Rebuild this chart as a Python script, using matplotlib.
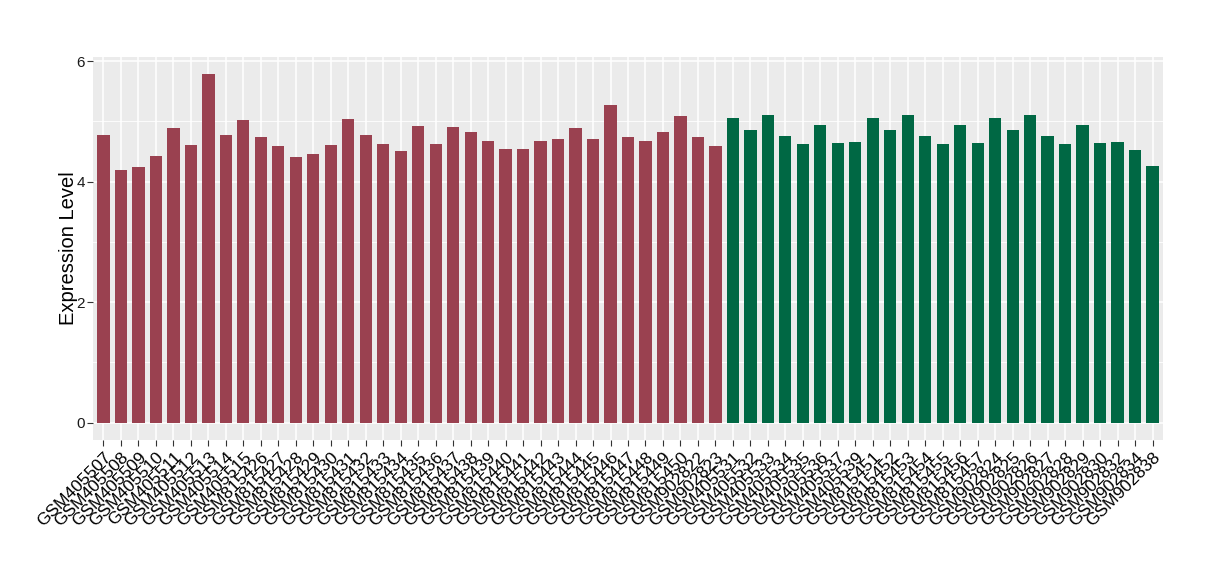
import matplotlib
matplotlib.use("Agg")
import matplotlib.pyplot as plt
import numpy as np

plt.rcParams['font.family'] = ['Liberation Sans', 'DejaVu Sans']

# samples, group 1 (red)
red_samples = ['GSM405507', 'GSM405508', 'GSM405509', 'GSM405510', 'GSM405511',
               'GSM405512', 'GSM405513', 'GSM405514', 'GSM405515',
               'GSM815426', 'GSM815427', 'GSM815428', 'GSM815429', 'GSM815430',
               'GSM815431', 'GSM815432', 'GSM815433', 'GSM815434', 'GSM815435',
               'GSM815436', 'GSM815437', 'GSM815438', 'GSM815439', 'GSM815440',
               'GSM815441', 'GSM815442', 'GSM815443', 'GSM815444', 'GSM815445',
               'GSM815446', 'GSM815447', 'GSM815448', 'GSM815449', 'GSM815450',
               'GSM902822', 'GSM902823']
red_values = [4.77, 4.19, 4.24, 4.43, 4.89, 4.61, 5.78, 4.77, 5.02,
              4.74, 4.59, 4.41, 4.46, 4.61, 5.04, 4.77, 4.62, 4.51, 4.92,
              4.62, 4.91, 4.82, 4.67, 4.54, 4.54, 4.67, 4.71, 4.89, 4.71,
              5.27, 4.74, 4.67, 4.82, 5.09, 4.74, 4.59]

# samples, group 2 (green)
green_samples = ['GSM405531', 'GSM405532', 'GSM405533', 'GSM405534', 'GSM405535',
                 'GSM405536', 'GSM405537', 'GSM405539',
                 'GSM815451', 'GSM815452', 'GSM815453', 'GSM815454', 'GSM815455',
                 'GSM815456', 'GSM815457',
                 'GSM902824', 'GSM902825', 'GSM902826', 'GSM902827', 'GSM902828',
                 'GSM902829', 'GSM902830', 'GSM902832', 'GSM902834', 'GSM902838']
green_values = [5.06, 4.86, 5.11, 4.76, 4.62, 4.94, 4.64, 4.66,
                5.06, 4.86, 5.11, 4.76, 4.62, 4.94, 4.64,
                5.06, 4.86, 5.11, 4.76, 4.62, 4.94, 4.64, 4.66, 4.53, 4.26]

labels = red_samples + green_samples
values = red_values + green_values
colors = ['#9A4150'] * len(red_values) + ['#006844'] * len(green_values)

fig = plt.figure(figsize=(12.2, 5.8), dpi=100)
ax = fig.add_axes([93/1220, 1 - 440/580, (1163-93)/1220, (440-57)/580])
ax.set_facecolor('#EBEBEB')

x = np.arange(len(labels))

# grid, ggplot style
for yv in [1, 3, 5]:
    ax.axhline(yv, color='white', lw=0.6, zorder=0)
for yv in [0, 2, 4, 6]:
    ax.axhline(yv, color='white', lw=1.1, zorder=0)
for xv in x:
    ax.axvline(xv, color='white', lw=1.1, zorder=0)

ax.bar(x, values, width=0.7, color=colors, zorder=2)

ax.set_xlim(-0.6, len(labels) - 0.4)
ax.set_ylim(-0.29, 6.07)
ax.set_yticks([0, 2, 4, 6])
ax.set_yticklabels(['0', '2', '4', '6'], fontsize=11, color='#1a1a1a')
ax.set_xticks(x)
ax.set_xticklabels(labels, rotation=45, ha='right', rotation_mode='anchor',
                   fontsize=12.5, color='black')
ax.tick_params(axis='both', length=4, width=0.8, color='#333333', pad=2)
ax.tick_params(axis='x', pad=3)
for s in ax.spines.values():
    s.set_visible(False)

ax.set_ylabel('Expression Level', fontsize=14.5, labelpad=-1)

fig.savefig('out.png', dpi=100)
